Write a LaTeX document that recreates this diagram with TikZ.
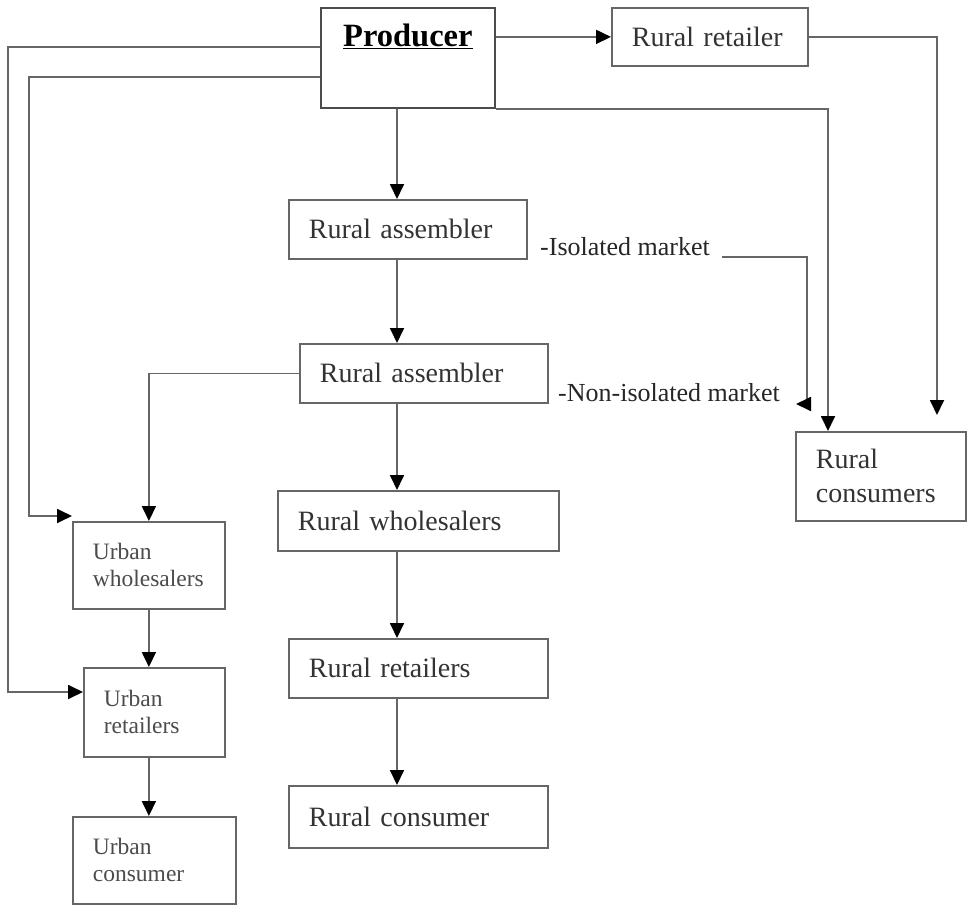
\documentclass[tikz,border=0pt]{standalone}
\usepackage{fontspec}
\setmainfont{Liberation Serif}
\usetikzlibrary{positioning,arrows.meta}

\tikzset{
  box/.style={draw=black!60, line width=1.8pt, anchor=north west, inner xsep=20pt,
    inner ysep=0pt, align=left, text=black!80, font=\fontsize{28}{34}\selectfont},
  ubox/.style={box, text=black!70, font=\fontsize{23.5}{27}\selectfont},
  lbl/.style={inner sep=0pt, anchor=west, text=black!85, font=\fontsize{26}{30}\selectfont},
  arr/.style={draw=black!60, line width=1.8pt, -{Triangle[length=15pt,width=14pt,color=black]}}
}

\begin{document}
\begin{tikzpicture}[x=1pt,y=-1pt]
  \fill[white] (0,0) rectangle (967,905);
  \useasboundingbox (0,0) rectangle (967,905);

  % Producer
  \node[draw=black!70, line width=1.8pt, anchor=north west, minimum width=174pt,
    inner sep=0pt, text height=39pt, text depth=61pt,
    font=\fontsize{32.5}{38}\selectfont\bfseries] (prod) at (320,7) {\underline{Producer}};

  % Rural chain
  \node[box, minimum width=196pt, minimum height=58pt, text width=156pt] (rret) at (611,7) {Rural retailer};
  \node[box, minimum width=238pt, minimum height=59pt, text width=198pt] (ass1) at (288,199) {Rural assembler};
  \node[box, minimum width=248pt, minimum height=59pt, text width=208pt] (ass2) at (299,343) {Rural assembler};
  \node[box, minimum width=281pt, minimum height=60pt, text width=241pt] (rwhole) at (277,490) {Rural wholesalers};
  \node[box, minimum width=259pt, minimum height=59pt, text width=219pt] (rrets) at (288,638) {Rural retailers};
  \node[box, minimum width=259pt, minimum height=62pt, text width=219pt] (rcons) at (288,785) {Rural consumer};
  \node[box, minimum width=170pt, minimum height=89pt, text width=130pt] (rconsr) at (795,431) {Rural\\consumers};

  % Urban chain
  \node[ubox, minimum width=152pt, minimum height=87pt, text width=112pt] (uwhole) at (72,521) {Urban\\wholesalers};
  \node[ubox, minimum width=141pt, minimum height=89pt, text width=101pt] (uret) at (83,667) {Urban\\retailers};
  \node[ubox, minimum width=163pt, minimum height=87pt, text width=123pt] (ucons) at (72,816) {Urban\\consumer};

  % Market labels
  \node[lbl] (isol) at (540,247) {-Isolated market};
  \node[lbl] (nonisol) at (558,393) {-Non-isolated market};

  % Bends
  \coordinate (spine) at (397,0);
  \coordinate (outA) at (8,47);
  \coordinate (outB) at (8,692);
  \coordinate (inA) at (29,77);
  \coordinate (inB) at (29,516);
  \coordinate (isoA) at (722,257);
  \coordinate (isoB) at (796,404);
  \coordinate (rcA) at (828,0);
  \coordinate (rcB) at (937,415);

  % Connectors
  \draw[arr] (prod.east |- rret.west) -- (rret.west);
  \draw[arr] (rret.east) -| (rcB);
  \draw[arr] (prod.south east) -| (rcA |- rconsr.north);
  \draw[arr] (isoA) -| ([xshift=11pt]isoB) -- (isoB);
  \draw[arr] (prod.south -| spine) -- (ass1.north -| spine);
  \draw[arr] (ass1.south -| spine) -- (ass2.north -| spine);
  \draw[arr] (ass2.south -| spine) -- (rwhole.north -| spine);
  \draw[arr] (rwhole.south -| spine) -- (rrets.north -| spine);
  \draw[arr] (rrets.south -| spine) -- (rcons.north -| spine);
  \draw[arr] (ass2.west) -| (uwhole.north);
  \draw[arr] (prod.west |- outA) -- (outA) -- (outB) -- (uret.west |- outB);
  \draw[arr] (prod.west |- inA) -- (inA) -- (inB) -- (uwhole.north west |- inB);
  \draw[arr] (uwhole.south) -- (uwhole.south |- uret.north);
  \draw[arr] (uwhole.south |- uret.south) -- (uwhole.south |- ucons.north);
\end{tikzpicture}
\end{document}
